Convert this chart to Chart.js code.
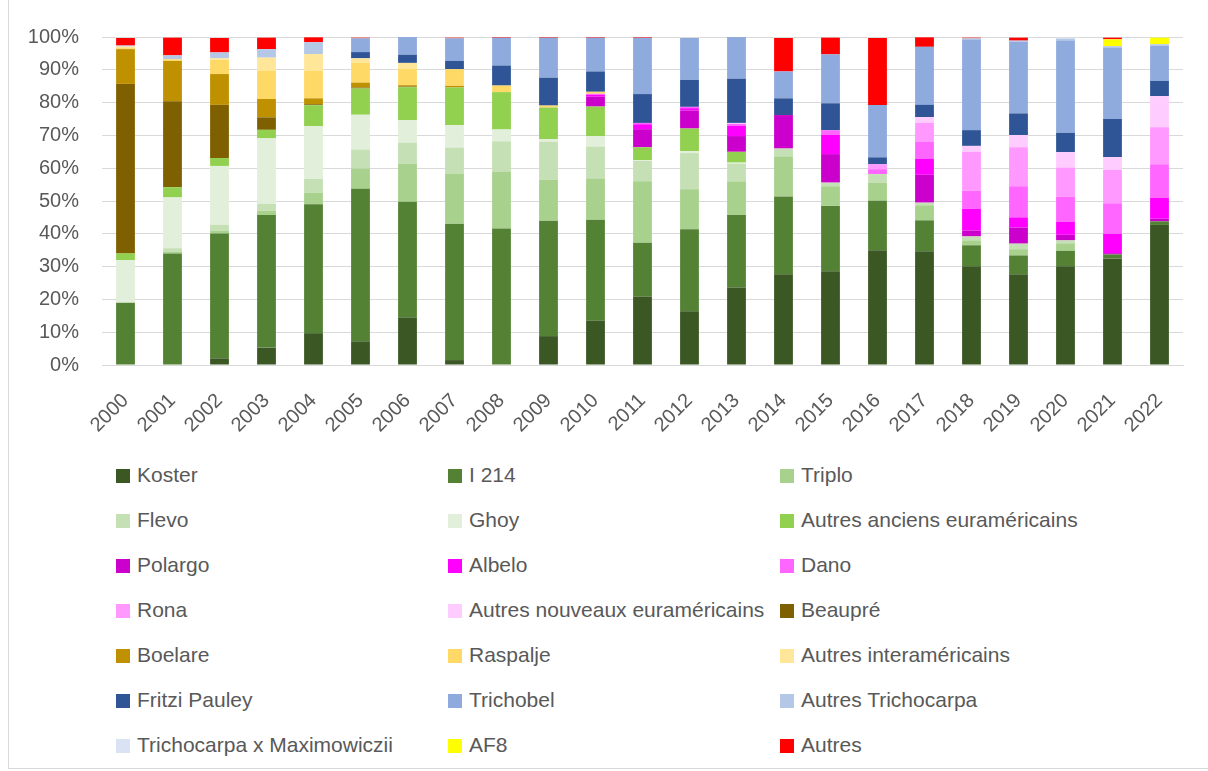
<!DOCTYPE html>
<html>
<head>
<meta charset="utf-8">
<script src="https://cdn.jsdelivr.net/npm/chart.js@4"></script>
<style>
    body { margin: 0; background: #fff; }
    #wrap { position: relative; width: 1208px; height: 771px; overflow: hidden; }
    #frame { position: absolute; left: 8px; top: -2px; width: 1210px; height: 770px; border-left: 1px solid #d9d9d9; border-bottom: 1px solid #d9d9d9; }
    #myChart { position: absolute; left: 0; top: 0; }
    #legend { position: absolute; left: 116px; top: 452px; width: 1000px;
        font-family: 'Liberation Sans', Arial, sans-serif; font-size: 21px; color: #595959; }
    .item { display: inline-block; width: 332px; height: 45px; line-height: 45px; white-space: nowrap; vertical-align: top; }
    .box { display: inline-block; width: 14px; height: 14px; margin-right: 7px; vertical-align: -1px; }
</style>
</head>
<body>
<div id="wrap">
    <div id="frame"></div>
    <canvas id="myChart" width="1208" height="450"></canvas>
    <div id="legend"></div>
</div>
<script>
const years = ['2000','2001','2002','2003','2004','2005','2006','2007','2008','2009','2010','2011','2012','2013','2014','2015','2016','2017','2018','2019','2020','2021','2022'];

const koster      = [0, 0, 2.0, 5.3, 9.7, 7.2, 14.5, 1.5, 0, 8.8, 13.5, 20.9, 16.4, 23.6, 27.7, 28.6, 35.0, 34.7, 30.1, 27.7, 30.1, 32.5, 42.7];
const i214        = [19.0, 34.0, 38.1, 40.4, 39.3, 46.5, 35.3, 41.6, 41.6, 35.2, 30.8, 16.4, 25.0, 22.1, 23.7, 19.9, 15.1, 9.4, 6.4, 5.7, 4.7, 1.2, 1.1];
const triplo      = [0, 0.6, 0.8, 1.3, 3.5, 6.2, 11.6, 15.3, 17.4, 12.5, 12.6, 18.7, 12.2, 10.3, 12.2, 6.0, 5.4, 4.6, 1.5, 1.9, 2.3, 0, 0];
const flevo       = [0, 1.0, 1.8, 2.1, 4.2, 5.8, 6.4, 7.9, 9.2, 11.6, 9.7, 6.2, 11.0, 5.3, 2.4, 1.1, 2.7, 0.8, 1.2, 1.7, 0.9, 0, 0];
const ghoy        = [13.0, 15.5, 18.0, 20.0, 16.1, 10.6, 6.9, 6.8, 3.6, 0.8, 3.2, 0.3, 0.6, 0.4, 0, 0, 0, 0, 0, 0, 0, 0, 0];
const autresAnc   = [2.0, 3.1, 2.4, 2.6, 6.4, 8.0, 10.0, 11.5, 11.4, 9.6, 9.0, 3.9, 6.9, 3.3, 0, 0, 0, 0, 0, 0, 0, 0, 0];
const polargo     = [0, 0, 0, 0, 0, 0, 0, 0, 0, 0, 3.0, 5.5, 5.5, 4.8, 10.2, 8.7, 0, 8.5, 1.8, 4.9, 1.7, 0.4, 0.8];
const albelo      = [0, 0, 0, 0, 0, 0, 0, 0, 0, 0, 0.6, 1.5, 0.7, 3.1, 0, 5.9, 0, 4.8, 6.6, 3.1, 4.0, 5.9, 6.4];
const dano        = [0, 0, 0, 0, 0, 0, 0, 0, 0, 0, 0.3, 0.4, 0.4, 0.6, 0, 1.4, 1.5, 5.2, 5.5, 9.5, 7.6, 9.3, 10.2];
const rona        = [0, 0, 0, 0, 0, 0, 0, 0, 0, 0, 0, 0, 0, 0, 0, 0, 1.5, 5.8, 11.9, 11.9, 8.9, 10.2, 11.3];
const autresNouv  = [0, 0, 0, 0, 0, 0, 0, 0, 0, 0, 0, 0, 0, 0.3, 0, 0, 0, 1.8, 1.8, 3.7, 4.7, 3.9, 9.5];
const beaupre     = [51.7, 26.2, 16.2, 3.8, 0.3, 0.3, 0.2, 0, 0, 0, 0, 0, 0, 0, 0, 0, 0, 0, 0, 0, 0, 0, 0];
const boelare     = [10.6, 12.3, 9.4, 5.6, 1.8, 1.5, 0.4, 0.5, 0, 0, 0, 0, 0, 0, 0, 0, 0, 0, 0, 0, 0, 0, 0];
const raspalje    = [0.3, 0.5, 4.3, 8.7, 8.4, 6.1, 5.1, 5.1, 2.0, 0.6, 0.6, 0, 0, 0, 0, 0, 0, 0, 0, 0, 0, 0, 0];
const autresInter = [0.5, 0, 0.5, 3.9, 5.1, 1.3, 1.7, 0, 0, 0, 0, 0, 0, 0, 0, 0, 0, 0, 0, 0, 0, 0, 0];
const fritzi      = [0, 0, 0, 0, 0, 1.9, 2.5, 2.5, 6.1, 8.5, 6.2, 8.8, 8.2, 13.5, 5.1, 8.2, 2.1, 3.7, 4.8, 6.6, 5.9, 11.6, 4.6];
const trichobel   = [0, 0, 0, 0, 0, 4.2, 5.4, 6.9, 8.5, 12.2, 10.3, 17.2, 12.8, 12.8, 8.2, 14.9, 16.0, 17.7, 27.6, 21.8, 28.1, 21.8, 10.7];
const autresTrich = [0.3, 1.2, 1.8, 2.6, 3.6, 0, 0, 0, 0, 0, 0, 0, 0, 0, 0, 0, 0, 0, 0.4, 0.4, 0.6, 0.4, 0.5];
const trichoMaxi  = [0, 0, 0, 0, 0, 0, 0, 0, 0, 0, 0, 0, 0, 0, 0, 0, 0, 0, 0, 0, 0.3, 0, 0];
const af8         = [0, 0, 0, 0, 0, 0, 0, 0, 0, 0, 0, 0, 0, 0, 0, 0, 0, 0, 0, 0, 0, 2.1, 2.0];
const autres      = [2.3, 5.4, 4.4, 3.5, 1.5, 0.2, 0.2, 0.2, 0.2, 0.2, 0.2, 0.2, 0, 0, 10.2, 5.1, 20.4, 2.9, 0.2, 0.9, 0, 0.5, 0];

const series = [
    ['Koster', koster, '#3a5724'],
    ['I 214', i214, '#548235'],
    ['Triplo', triplo, '#a9d18e'],
    ['Flevo', flevo, '#c5e0b4'],
    ['Ghoy', ghoy, '#e2efda'],
    ['Autres anciens euraméricains', autresAnc, '#92d050'],
    ['Polargo', polargo, '#cc00cc'],
    ['Albelo', albelo, '#ff00ff'],
    ['Dano', dano, '#ff66ff'],
    ['Rona', rona, '#ff99ff'],
    ['Autres nouveaux euraméricains', autresNouv, '#ffccff'],
    ['Beaupré', beaupre, '#7f6000'],
    ['Boelare', boelare, '#bf9000'],
    ['Raspalje', raspalje, '#ffd966'],
    ['Autres interaméricains', autresInter, '#ffe699'],
    ['Fritzi Pauley', fritzi, '#2f5597'],
    ['Trichobel', trichobel, '#8faadc'],
    ['Autres Trichocarpa', autresTrich, '#b4c7e7'],
    ['Trichocarpa x Maximowiczii', trichoMaxi, '#dae3f3'],
    ['AF8', af8, '#ffff00'],
    ['Autres', autres, '#ff0000']
];

const font = { family: "'Liberation Sans', Arial, sans-serif", size: 20 };

var ctx = document.getElementById('myChart').getContext('2d');
var myChart = new Chart(ctx, {
    type: 'bar',
    data: {
        labels: years,
        datasets: series.map(function (s) {
            return {
                label: s[0],
                data: s[1],
                backgroundColor: s[2],
                borderWidth: 0,
                barPercentage: 0.4,
                categoryPercentage: 1
            };
        })
    },
    options: {
        responsive: false,
        animation: false,
        layout: { padding: { top: 37, right: 25, left: 0, bottom: 0 } },
        plugins: {
            legend: { display: false },
            tooltip: { enabled: false }
        },
        scales: {
            x: {
                stacked: true,
                grid: { display: false },
                border: { color: '#d9d9d9', width: 1 },
                ticks: { color: '#595959', font: font, minRotation: 45, maxRotation: 45, padding: 16 },
                afterFit: function (scale) { scale.height = 85; }
            },
            y: {
                stacked: true,
                min: 0,
                max: 100,
                grid: { color: '#d9d9d9', drawTicks: false },
                border: { display: false },
                ticks: {
                    stepSize: 10,
                    color: '#595959',
                    font: font,
                    padding: 23,
                    callback: function (v) { return v + '%'; }
                },
                afterFit: function (scale) { scale.width = 102; }
            }
        }
    }
});

// legend in three columns, like the original
const legend = document.getElementById('legend');
series.forEach(function (s) {
    const item = document.createElement('span');
    item.className = 'item';
    const box = document.createElement('span');
    box.className = 'box';
    box.style.background = s[2];
    item.appendChild(box);
    item.appendChild(document.createTextNode(s[0]));
    legend.appendChild(item);
});
</script>
</body>
</html>
